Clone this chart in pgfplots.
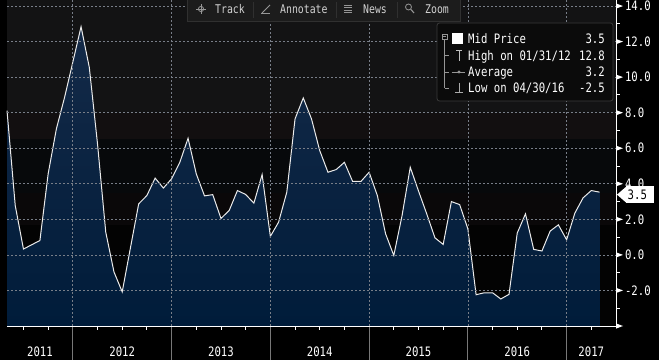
\documentclass[border=0pt]{standalone}
\usepackage{pgfplots}
\pgfplotsset{compat=1.18}
\usepackage{pgfplotstable}
\usepackage{fontspec}
\newfontfamily\bbg[FakeStretch=0.82]{DejaVu Sans Mono}
\newcommand\bbgf{\bbg\fontsize{13bp}{15bp}\selectfont}
\newcommand\bbgs{\bbg\fontsize{12bp}{14bp}\selectfont}
\definecolor{gridc}{RGB}{120,126,136}
\definecolor{sepc}{RGB}{120,120,120}
\definecolor{bgA}{RGB}{19,19,20}
\definecolor{bgB}{RGB}{18,15,16}
\definecolor{bgC}{RGB}{7,9,11}
\definecolor{bgD}{RGB}{10,8,9}
\definecolor{bgE}{RGB}{3,3,3}
\definecolor{areaT}{RGB}{20,42,72}
\definecolor{areaM}{RGB}{5,38,78}
\definecolor{areaB}{RGB}{0,28,58}
\definecolor{legbg}{RGB}{11,11,11}
\definecolor{legbd}{RGB}{58,58,58}
\definecolor{tbbg}{RGB}{28,28,28}
\definecolor{tbbd}{RGB}{48,48,48}
\definecolor{tbtx}{RGB}{210,210,210}
\definecolor{icon}{RGB}{150,150,150}
\definecolor{hiicon}{RGB}{190,190,190}
\definecolor{loicon}{RGB}{170,170,170}
\definecolor{linec}{RGB}{235,235,235}

\pgfplotstableread{
m v
4 8.12
5 2.78
6 0.33
7 0.57
8 0.81
9 4.56
10 7.09
11 8.87
12 10.85
13 12.84
14 10.55
15 6.24
16 1.28
17 -0.96
18 -2.08
19 0.40
20 2.87
21 3.34
22 4.32
23 3.76
24 4.28
25 5.21
26 6.56
27 4.56
28 3.32
29 3.39
30 2.05
31 2.50
32 3.62
33 3.40
34 2.91
35 4.52
36 1.04
37 1.84
38 3.53
39 7.65
40 8.83
41 7.65
42 5.87
43 4.65
44 4.80
45 5.21
46 4.13
47 4.13
48 4.65
49 3.34
50 1.19
51 -0.03
52 2.20
53 4.93
54 3.60
55 2.31
56 0.96
57 0.59
58 3.00
59 2.83
60 1.47
61 -2.24
62 -2.13
63 -2.13
64 -2.48
65 -2.22
66 1.23
67 2.31
68 0.31
69 0.22
70 1.34
71 1.69
72 0.85
73 2.35
74 3.21
75 3.62
76 3.53
}\midprice

\begin{document}
\begin{tikzpicture}
\fill[black] (0bp,-34bp) rectangle (659bp,326bp);
\useasboundingbox (0bp,-34bp) rectangle (659bp,326bp);
\begin{axis}[
  at={(7bp,0bp)}, anchor=south west,
  scale only axis, width=609bp, height=326bp,
  xmin=4, xmax=78, ymin=-4, ymax=14.34,
  clip=false,
  axis on top,
  axis x line*=bottom, axis y line*=right,
  axis line style={white, line width=1bp},
  xtick={8,18,30,42,54,66,75},
  xticklabels={2011,2012,2013,2014,2015,2016,2017},
  minor xtick={6,9,15,18,21,27,30,33,39,42,45,51,54,57,63,66,69,75},
  extra x ticks={12,24,36,48,60,72},
  extra x tick labels={},
  extra x tick style={xmajorgrids=true},
  ytick={-4,-2,...,14},
  yticklabels={,-2.0,0.0,2.0,4.0,6.0,8.0,10.0,12.0,14.0},
  minor ytick={-3,-1,...,13},
  ymajorgrids=true,
  major grid style={gridc, dash pattern=on 2bp off 2bp, line width=0.7bp},
  major tick length=0pt,
  minor tick length=3.5bp,
  tick align=outside,
  tick style={white, line width=0.9bp},
  xticklabel style={font=\bbgf, text=white, yshift=-17bp},
  yticklabel style={font=\bbgf, text=white, xshift=5.5bp},
]
\fill[bgA] (axis cs:4,8) rectangle (axis cs:78,14.34);
\fill[bgB] (axis cs:4,6.5) rectangle (axis cs:78,8);
\fill[bgC] (axis cs:4,3.5) rectangle (axis cs:78,6.5);
\fill[bgD] (axis cs:4,1.7) rectangle (axis cs:78,3.5);
\fill[bgE] (axis cs:4,-4) rectangle (axis cs:78,1.7);
\addplot[draw=none, top color=areaT, middle color=areaM, bottom color=areaB]
  table[x=m, y=v] {\midprice} -- (axis cs:76,-4) -- (axis cs:4,-4) -- cycle;
\addplot[color=linec, line width=1bp, mark=none]
  table[x=m, y=v] {\midprice};
\pgfplotsinvokeforeach{-4,-2,...,14}{
  \fill[white] (axis cs:78,#1) ++(0bp,2.6bp) -- ++(7bp,-2.6bp) -- ++(-7bp,-2.6bp) -- cycle;
}
\pgfplotsinvokeforeach{12,24,36,48,60,72}{
  \draw[sepc, line width=1bp] (axis cs:#1,-4) -- ++(0bp,-34bp);
}
% last-value tag
\fill[white] (axis cs:78,3.53) ++(1bp,-2.5bp) -- ++(9.5bp,8.25bp) -- ++(0bp,-16.5bp) -- cycle;
\node[fill=white, text=black, anchor=west, inner sep=0pt, minimum height=16.5bp,
      minimum width=28bp, text width=27bp, align=left, font=\bbgf,
      xshift=10bp, yshift=-2.5bp]
  at (axis cs:78,3.53) {\hspace{1bp}3.5};
\end{axis}

% toolbar
\filldraw[fill=tbbg, draw=tbbd, line width=0.8bp] (187bp,305bp) rectangle (460bp,327bp);
\foreach \xx in {253,336,397} {\draw[tbbd, line width=1bp] (\xx bp,308bp) -- (\xx bp,324bp);}
\node[anchor=base west, inner sep=0pt, text=tbtx, font=\bbgs] at (215bp,312.7bp) {Track};
\node[anchor=base west, inner sep=0pt, text=tbtx, font=\bbgs] at (280bp,312.7bp) {Annotate};
\node[anchor=base west, inner sep=0pt, text=tbtx, font=\bbgs] at (363bp,312.7bp) {News};
\node[anchor=base west, inner sep=0pt, text=tbtx, font=\bbgs] at (425bp,312.7bp) {Zoom};
% icons
\draw[icon, line width=0.8bp] (201bp,317bp) circle (2.6bp);
\draw[icon, line width=0.8bp] (196bp,317bp) -- (206bp,317bp) (201bp,312bp) -- (201bp,322bp);
\draw[icon, line width=1bp] (262bp,313bp) -- (270bp,321bp);
\draw[icon, line width=0.8bp] (261bp,312.5bp) -- (270bp,312.5bp);
\foreach \yy in {321,318.5,316,313.5} {\draw[icon, line width=0.9bp] (344bp,\yy bp) -- (352bp,\yy bp);}
\draw[icon, line width=0.8bp] (408.5bp,319bp) circle (3bp);
\draw[icon, line width=1.1bp] (410.7bp,316.8bp) -- (414bp,313bp);

% legend
\filldraw[fill=legbg, draw=legbd, line width=0.8bp, rounded corners=2.5bp] (437bp,225bp) rectangle (613bp,303bp);
\draw[icon, line width=0.7bp] (442bp,286.7bp) rectangle (447.3bp,292bp);
\draw[icon, line width=0.7bp] (443.2bp,289.35bp) -- (446.1bp,289.35bp);
\draw[icon, line width=0.7bp] (444.65bp,286.7bp) -- (444.65bp,237.5bp);
\foreach \yy in {271,254,237.5} {\draw[icon, line width=0.7bp] (444.65bp,\yy bp) -- (448.5bp,\yy bp);}
\fill[white] (452bp,282bp) rectangle (463.3bp,292.7bp);
\draw[hiicon, line width=0.9bp] (459bp,265.3bp) -- (459bp,275.5bp) (456bp,275.5bp) -- (462bp,275.5bp);
\draw[icon, line width=0.7bp] (451.7bp,254bp) -- (465bp,254bp);
\fill[icon] (459bp,254bp) circle (1.7bp);
\draw[loicon, line width=0.9bp] (459bp,243bp) -- (459bp,233.3bp) (455bp,233.3bp) -- (463bp,233.3bp);
\foreach \yy/\lab/\val in {282.3/Mid Price/3.5, 265.5/High on 01\slash 31\slash 12/12.8, 249.3/Average/3.2, 233.3/Low on 04\slash 30\slash 16/-2.5} {
  \node[anchor=base west, inner sep=0pt, text=white, font=\bbgf] at (468bp,\yy bp) {\lab};
  \node[anchor=base east, inner sep=0pt, text=white, font=\bbgf] at (605bp,\yy bp) {\val};
}
\end{tikzpicture}
\end{document}
